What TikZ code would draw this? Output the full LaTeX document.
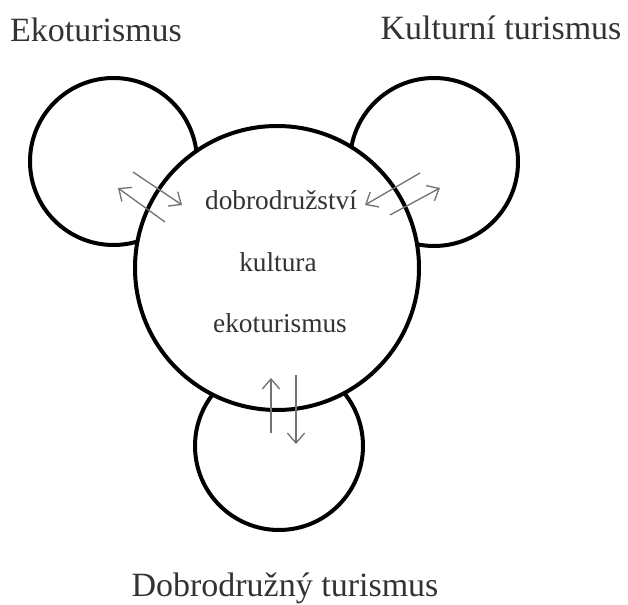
\documentclass[tikz,border=0pt]{standalone}
\usepackage{fontspec}
\setmainfont{Liberation Serif}
\usetikzlibrary{arrows.meta}
\tikzset{
  ring/.style={circle, draw=black, line width=3pt, fill=white, inner sep=0pt},
  label/.style={anchor=base, inner sep=0pt, text=black!80, font=\fontsize{25.5}{28}\selectfont},
  inner/.style={anchor=base, inner sep=0pt, text=black!80, font=\fontsize{20.5}{23}\selectfont},
  flow/.style={draw=black!55, line width=1pt, -{Straight Barb[length=7.5pt, width=13pt, line width=1pt]}}
}
\begin{document}
\begin{tikzpicture}[x=0.75pt, y=-0.75pt]
\useasboundingbox (0,0) rectangle (628,605);
% satellite circles
\node[ring, minimum size=167*0.75pt] (eko) at (113.5,161.5) {};
\node[ring, minimum size=168*0.75pt] (kul) at (434,162) {};
\node[ring, minimum size=168*0.75pt] (dob) at (279,446) {};
% central circle
\node[ring, minimum size=284*0.75pt] (main) at (277,268) {};
% labels
\node[label] (l1) at (96,42) {Ekoturismus};
\node[label] (l2) at (501,40) {Kulturní turismus};
\node[label] (l3) at (285,596) {Dobrodružný turismus};
% inner texts
\node[inner] (t1) at (281,210) {dobrodružství};
\node[inner] (t2) at (278,272) {kultura};
\node[inner] (t3) at (280,333) {ekoturismus};
% arrow end points
\coordinate (a1s) at (165,222); \coordinate (a1e) at (118,188);
\coordinate (a2s) at (133,172); \coordinate (a2e) at (182,205);
\coordinate (b1s) at (420,173); \coordinate (b1e) at (365,205);
\coordinate (b2s) at (390,215); \coordinate (b2e) at (440,188);
\coordinate (c1s) at (271,433); \coordinate (c1e) at (271,378);
\coordinate (c2s) at (296,375); \coordinate (c2e) at (296,444);
\draw[flow] (a1s) -- (a1e);
\draw[flow] (a2s) -- (a2e);
\draw[flow] (b1s) -- (b1e);
\draw[flow] (b2s) -- (b2e);
\draw[flow] (c1s) -- (c1e);
\draw[flow] (c2s) -- (c2e);
\end{tikzpicture}
\end{document}
